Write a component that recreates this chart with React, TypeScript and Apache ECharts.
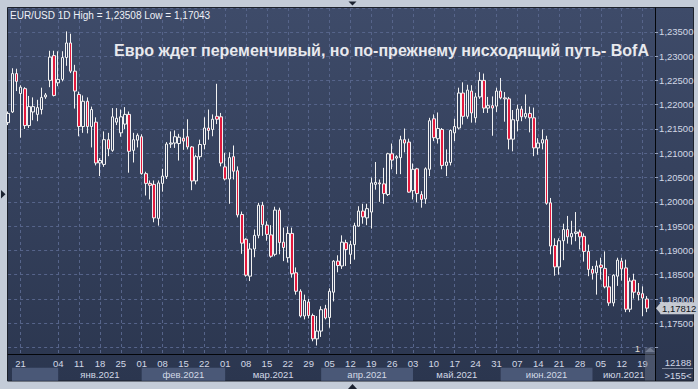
import React, { useEffect, useRef } from 'react';
import * as echarts from 'echarts';

// ---- DATA ----
const dates: string[] = [
  '2020-12-16','2020-12-17','2020-12-18','2020-12-21','2020-12-22','2020-12-23','2020-12-24','2020-12-25','2020-12-28','2020-12-29','2020-12-30','2020-12-31',
  '2021-01-04','2021-01-05','2021-01-06','2021-01-07','2021-01-08','2021-01-11','2021-01-12','2021-01-13','2021-01-14','2021-01-15',
  '2021-01-18','2021-01-19','2021-01-20','2021-01-21','2021-01-22','2021-01-25','2021-01-26','2021-01-27','2021-01-28','2021-01-29',
  '2021-02-01','2021-02-02','2021-02-03','2021-02-04','2021-02-05','2021-02-08','2021-02-09','2021-02-10','2021-02-11','2021-02-12',
  '2021-02-15','2021-02-16','2021-02-17','2021-02-18','2021-02-19','2021-02-22','2021-02-23','2021-02-24','2021-02-25','2021-02-26',
  '2021-03-01','2021-03-02','2021-03-03','2021-03-04','2021-03-05','2021-03-08','2021-03-09','2021-03-10','2021-03-11','2021-03-12',
  '2021-03-15','2021-03-16','2021-03-17','2021-03-18','2021-03-19','2021-03-22','2021-03-23','2021-03-24','2021-03-25','2021-03-26',
  '2021-03-29','2021-03-30','2021-03-31',
  '2021-04-01','2021-04-02','2021-04-05','2021-04-06','2021-04-07','2021-04-08','2021-04-09','2021-04-12','2021-04-13','2021-04-14',
  '2021-04-15','2021-04-16','2021-04-19','2021-04-20','2021-04-21','2021-04-22','2021-04-23','2021-04-26','2021-04-27','2021-04-28',
  '2021-04-29','2021-04-30',
  '2021-05-03','2021-05-04','2021-05-05','2021-05-06','2021-05-07','2021-05-10','2021-05-11','2021-05-12','2021-05-13','2021-05-14',
  '2021-05-17','2021-05-18','2021-05-19','2021-05-20','2021-05-21','2021-05-24','2021-05-25','2021-05-26','2021-05-27','2021-05-28',
  '2021-05-31',
  '2021-06-01','2021-06-02','2021-06-03','2021-06-04','2021-06-07','2021-06-08','2021-06-09','2021-06-10','2021-06-11','2021-06-14',
  '2021-06-15','2021-06-16','2021-06-17','2021-06-18','2021-06-21','2021-06-22','2021-06-23','2021-06-24','2021-06-25','2021-06-28',
  '2021-06-29','2021-06-30',
  '2021-07-01','2021-07-02','2021-07-05','2021-07-06','2021-07-07','2021-07-08','2021-07-09','2021-07-12','2021-07-13','2021-07-14',
  '2021-07-15','2021-07-16','2021-07-19','2021-07-20',
  '2021-07-21','2021-07-22'
];

const opens = [
  1.2163,1.2185,1.2264,1.2223,1.2233,1.2157,1.2185,1.2180,1.2190,1.2216,1.2250,1.2301,
  1.2245,1.2252,1.2297,1.2327,1.2269,1.2221,1.2155,1.2207,1.2155,1.2164,1.2080,1.2077,1.2128,1.2106,1.2164,1.2142,1.2160,1.2180,1.2106,1.2127,
  1.2134,1.2058,1.2038,1.2036,1.1966,1.2038,1.2052,1.2119,1.2121,1.2120,1.2131,1.2134,1.2113,1.2043,1.2093,1.2118,1.2152,1.2149,1.2176,1.2175,
  1.2072,1.2047,1.2093,1.2064,1.1974,1.1923,1.1847,1.1903,1.1931,1.1993,1.1952,1.1932,1.1892,1.1983,1.1917,1.1885,1.1935,1.1854,1.1816,1.1765,1.1794,1.1766,1.1718,
  1.1734,1.1780,1.1762,1.1814,1.1878,1.1868,1.1916,1.1892,1.1912,1.1950,1.1981,1.1967,1.1979,1.2036,1.2039,1.2037,1.2015,1.2099,1.2090,1.2091,1.2128,1.2123,
  1.2023,1.2068,1.2015,1.2006,1.2067,1.2171,1.2130,1.2149,1.2075,1.2081,1.2142,1.2152,1.2224,1.2176,1.2228,1.2173,1.2216,1.2250,1.2193,1.2198,1.2197,
  1.2228,1.2214,1.2212,1.2129,1.2167,1.2191,1.2175,1.2182,1.2173,1.2111,1.2121,1.2128,1.1998,1.1910,1.1866,1.1920,1.1943,1.1928,1.1935,1.1938,1.1929,1.1898,
  1.1861,1.1854,1.1870,1.1863,1.1825,1.1792,1.1847,1.1878,1.1864,1.1779,1.1839,1.1814,1.1811,1.1800
];
const highs = [
  1.2186,1.2275,1.2274,1.2240,1.2236,1.2218,1.2215,1.2210,1.2235,1.2224,1.2311,1.2311,
  1.2310,1.2310,1.23508,1.2346,1.2282,1.2227,1.2219,1.2215,1.2196,1.2174,1.2090,1.2145,1.2142,1.2193,1.2193,1.2190,1.2195,1.2186,1.2142,1.2141,
  1.2139,1.2062,1.2044,1.2044,1.2044,1.2068,1.2123,1.2145,1.2147,1.2140,1.2150,1.2170,1.2115,1.2097,1.2128,1.2174,1.2190,1.2180,1.2243,1.2183,
  1.2101,1.2102,1.2116,1.2073,1.1980,1.1925,1.1915,1.1943,1.1998,1.2000,1.1960,1.1952,1.1990,1.1988,1.1947,1.1949,1.1947,1.1865,1.1820,1.1809,1.1800,1.1770,1.1765,
  1.1785,1.1788,1.1822,1.1880,1.1890,1.1931,1.1922,1.1920,1.1957,1.1991,1.1996,1.1996,1.2050,1.2082,1.2046,1.2070,1.2101,1.2120,1.2096,1.2136,1.2151,1.2130,
  1.2079,1.2070,1.2022,1.2071,1.2173,1.2180,1.2184,1.2152,1.2108,1.2149,1.2171,1.2235,1.2246,1.2241,1.2240,1.2224,1.2267,1.2264,1.2216,1.2217,1.2235,
  1.2255,1.2226,1.2216,1.2189,1.2200,1.2197,1.2221,1.2196,1.2194,1.2131,1.2149,1.2136,1.2008,1.1925,1.1925,1.1955,1.1971,1.1961,1.1979,1.1943,1.1935,1.1912,
  1.1868,1.1879,1.1885,1.1898,1.1847,1.1851,1.1885,1.1885,1.1881,1.1844,1.1852,1.1833,1.1826,1.1806
];
const lows = [
  1.2158,1.2183,1.2228,1.2132,1.2150,1.2152,1.2168,1.2166,1.2180,1.2212,1.2236,1.2217,
  1.2238,1.2248,1.2280,1.2265,1.2192,1.2135,1.2142,1.2141,1.2112,1.2075,1.2053,1.2072,1.2094,1.2103,1.2158,1.2134,1.2150,1.2060,1.2081,1.2112,
  1.2056,1.2013,1.2005,1.1958,1.1951,1.2021,1.2047,1.2111,1.2111,1.2085,1.2107,1.2108,1.2024,1.2036,1.2087,1.2108,1.2128,1.2135,1.2160,1.2073,
  1.2044,1.1996,1.2046,1.1968,1.1893,1.1846,1.1837,1.1886,1.1925,1.1930,1.1920,1.1885,1.1888,1.1892,1.1878,1.1875,1.1844,1.1809,1.1762,1.1758,1.1760,1.1713,1.17043,
  1.1722,1.1758,1.1741,1.1795,1.1855,1.1862,1.1868,1.1872,1.1881,1.1949,1.1955,1.1952,1.1945,1.2025,1.2000,1.1996,1.2012,1.2067,1.2057,1.2057,1.2102,1.2019,
  1.2005,1.1999,1.1988,1.1996,1.2053,1.2125,1.2120,1.2067,1.2053,1.2075,1.2125,1.2149,1.2159,1.2171,1.2163,1.2163,1.2212,1.2183,1.2183,1.2136,1.2185,
  1.2211,1.2165,1.2108,1.2104,1.2145,1.2166,1.2171,1.2143,1.2094,1.2097,1.2108,1.1994,1.1892,1.1848,1.1850,1.1880,1.1914,1.1912,1.1919,1.1902,1.1877,1.1847,
  1.1840,1.1809,1.1840,1.1822,1.1786,1.1785,1.1827,1.1838,1.1773,1.1773,1.1801,1.1797,1.1765,1.1773
];
const closes = [
  1.2182,1.2264,1.2248,1.2236,1.2157,1.2196,1.2196,1.2194,1.2215,1.2220,1.2298,1.2219,
  1.2252,1.2297,1.2327,1.2269,1.2228,1.2155,1.2207,1.2155,1.2190,1.2080,1.2085,1.2128,1.2109,1.2175,1.2172,1.2175,1.2180,1.2104,1.2128,1.2137,
  1.2058,1.2038,1.2034,1.1967,1.2039,1.2053,1.2119,1.2121,1.2134,1.2133,1.2125,1.2113,1.2043,1.2093,1.2118,1.2152,1.2147,1.2170,1.2170,1.2080,
  1.2047,1.2091,1.2063,1.1973,1.1915,1.1849,1.1903,1.1931,1.1993,1.1953,1.1933,1.1888,1.1983,1.1916,1.1906,1.1935,1.1852,1.1816,1.1765,1.1797,1.1766,1.1718,1.1734,
  1.1778,1.1761,1.1816,1.1878,1.1869,1.1917,1.1902,1.1912,1.1951,1.1981,1.1969,1.1986,1.2039,1.2040,1.2037,1.2017,1.2099,1.2086,1.2093,1.2128,1.2121,1.2020,
  1.2067,1.2017,1.2005,1.2068,1.2167,1.2132,1.2151,1.2075,1.2082,1.2147,1.2155,1.2224,1.2176,1.2230,1.2183,1.2216,1.2250,1.2193,1.2198,1.2193,1.2228,
  1.2214,1.2212,1.2129,1.2169,1.2191,1.2175,1.2182,1.2173,1.2111,1.2121,1.2128,1.1997,1.1909,1.1866,1.1920,1.1943,1.1928,1.1935,1.1938,1.1928,1.1898,1.1861,
  1.1853,1.1868,1.1865,1.1825,1.1792,1.1849,1.1880,1.1862,1.1779,1.1837,1.1814,1.1809,1.1802,1.17812
];

const tickDates = [
  '2020-12-21','2021-01-04','2021-01-11','2021-01-18','2021-01-25','2021-02-01','2021-02-08','2021-02-15','2021-02-22',
  '2021-03-01','2021-03-08','2021-03-15','2021-03-22','2021-03-29','2021-04-05','2021-04-12','2021-04-19','2021-04-26',
  '2021-05-03','2021-05-10','2021-05-17','2021-05-24','2021-05-31','2021-06-07','2021-06-14','2021-06-21','2021-06-28',
  '2021-07-05','2021-07-12','2021-07-19'
];
const monthKeys = ['2020-12','2021-01','2021-02','2021-03','2021-04','2021-05','2021-06','2021-07'];
const monthLabels = ['', 'янв.2021', 'фев.2021', 'мар.2021', 'апр.2021', 'май.2021', 'июн.2021', 'июл.2021'];

const TITLE = 'Евро ждет переменчивый, но по-прежнему нисходящий путь- BofA';
const INFO = 'EUR/USD 1D High = 1,23508 Low = 1,17043';
const LAST_PRICE = 1.17812;

const FONT = '"Liberation Sans", Arial, sans-serif';
const TXT = '#d2d8e6';

export default function App() {
  const ref = useRef<HTMLDivElement>(null);
  useEffect(() => {
    const el = ref.current!;
    const chart = echarts.init(el, null, { renderer: 'svg', width: 698, height: 389 });
    const labelSet = new Set(tickDates);
    const candles = opens.map((o, i) => [o, closes[i], lows[i], highs[i]]);
    const isTick = (_i: number, v: string) => labelSet.has(v);

    chart.setOption({
      animation: false,
      backgroundColor: 'transparent',
      grid: { left: 8.1, top: 8, width: 647, height: 346.3, show: false },
      xAxis: {
        type: 'category',
        data: dates,
        boundaryGap: false,
        axisLine: { show: true, lineStyle: { color: '#04060a', width: 1 } },
        axisTick: { show: false },
        axisLabel: {
          interval: isTick,
          formatter: (v: string) => v.slice(8),
          color: TXT, fontSize: 9.5, fontFamily: FONT, margin: 4,
        },
        splitLine: { show: true, interval: isTick, lineStyle: { color: '#56648a', type: [3, 3], width: 1 } },
      },
      yAxis: {
        type: 'value',
        position: 'right',
        min: 1.16862,
        max: 1.2399,
        splitNumber: 14,
        minInterval: 0.005,
        maxInterval: 0.005,
        axisLine: { show: true, lineStyle: { color: '#04060a', width: 1 } },
        axisTick: { show: true, length: 3, lineStyle: { color: '#9aa6c0' } },
        axisLabel: {
          showMinLabel: false, showMaxLabel: false,
          margin: 4, color: TXT, fontSize: 9.5, fontFamily: FONT,
          formatter: (v: number) => {
            const k = v / 0.005;
            if (Math.abs(k - Math.round(k)) > 1e-6 || v < 1.1725 || v > 1.2375) return '';
            return v.toFixed(5).replace('.', ',');
          },
        },
        splitLine: { show: true, lineStyle: { color: '#56648a', type: [3, 3], width: 1 } },
      },
      series: [{
        type: 'candlestick',
        data: candles,
        barWidth: 3,
        clip: true,
        itemStyle: {
          color: '#36425f', color0: '#e3193d',
          borderColor: '#f2f2f2', borderColor0: '#f2f2f2', borderWidth: 1,
        },
      }],
    });

    // decorations positioned through the chart's own scales
    const xOf = (d: string) => chart.convertToPixel({ xAxisIndex: 0 }, d) as number;
    const yOf = (v: number) => chart.convertToPixel({ yAxisIndex: 0 }, v) as number;
    const rightX = xOf(dates[dates.length - 1]);
    const bands: any[] = [];
    monthKeys.forEach((mk, mi) => {
      const first = dates.findIndex((d) => d.startsWith(mk));
      const nextKey = monthKeys[mi + 1];
      const nextIdx = nextKey ? dates.findIndex((d) => d.startsWith(nextKey)) : -1;
      const x0 = Math.max(xOf(dates[first]), 12);
      const x1 = nextIdx >= 0 ? xOf(dates[nextIdx]) : rightX;
      if (mi % 2 === 0) {
        bands.push({ type: 'rect', z: -5, silent: true, shape: { x: x0, y: 367.7, width: x1 - x0, height: 13 }, style: { fill: '#4a5877' } });
      }
      if (monthLabels[mi]) {
        bands.push({ type: 'text', z: 5, silent: true, x: (x0 + x1) / 2, y: 374.4,
          style: { text: monthLabels[mi], fill: TXT, font: `9.5px ${FONT}`, align: 'center', verticalAlign: 'middle', textAlign: 'center', textVerticalAlign: 'middle' } });
      }
    });
    const py = yOf(LAST_PRICE);
    const tx = (x: number, y: number, text: string, font: string, fill: string, align = 'left') => ({
      type: 'text', z: 20, silent: true, x, y,
      style: { text, fill, font, align, verticalAlign: 'middle', textAlign: align, textVerticalAlign: 'middle' },
    });

    chart.setOption({
      graphic: [
        { type: 'rect', z: -10, silent: true, shape: { x: 7.5, y: 7.5, width: 686, height: 373.5 },
          style: { fill: new echarts.graphic.LinearGradient(0, 0, 0, 1, [
            { offset: 0, color: '#3e4b69' }, { offset: 1, color: '#2b364f' }]), stroke: '#1c212b', lineWidth: 1 } },
        ...bands,
        { type: 'line', z: 5, silent: true, shape: { x1: 655.5, y1: 354, x2: 655.5, y2: 381 }, style: { stroke: '#04060a', lineWidth: 1 } },
        tx(649, 50, TITLE, `bold 16px ${FONT}`, '#e8e9ee', 'right'),
        tx(10, 15, INFO, `10px ${FONT}`, '#eef1f7'),
        // last price tag
        { type: 'polygon', z: 20, silent: true, shape: { points: [[656, py], [661, py - 6], [661, py + 6]] }, style: { fill: '#c6cad2' } },
        { type: 'rect', z: 20, silent: true, shape: { x: 660.5, y: py - 6, width: 34, height: 12 }, style: { fill: '#c6cad2' } },
        tx(662, py + 0.5, LAST_PRICE.toFixed(5).replace('.', ','), `9.5px ${FONT}`, '#10131a'),
        // right-bottom info
        tx(678, 362, '12188', `9.5px ${FONT}`, TXT, 'center'),
        { type: 'line', z: 20, silent: true, shape: { x1: 662, y1: 368.5, x2: 693, y2: 368.5 }, style: { stroke: '#7d879c', lineWidth: 1 } },
        tx(678, 375, '>155<', `9.5px ${FONT}`, TXT, 'center'),
        // scroll shift marker
        tx(637.5, 348.5, '1', `9.5px ${FONT}`, '#e2dccd', 'center'),
        { type: 'rect', z: 25, silent: true, shape: { x: 645, y: 347.5, width: 10, height: 33 }, style: { fill: 'rgba(110,120,140,0.45)' } },
        { type: 'polygon', z: 25, silent: true, shape: { points: [[645, 352], [650, 347.5], [655, 352]] }, style: { fill: 'rgba(140,150,170,0.6)' } },
        // window arrows
        { type: 'polygon', z: 30, silent: true, shape: { points: [[348.5, 1.5], [356.5, 1.5], [352.5, 5.5]] }, style: { fill: '#1b2230' } },
        { type: 'polygon', z: 30, silent: true, shape: { points: [[348, 389], [357, 389], [352.5, 384]] }, style: { fill: '#1b2230' } },
        { type: 'polygon', z: 30, silent: true, shape: { points: [[1, 190], [1, 198.5], [5.5, 194.2]] }, style: { fill: '#1b2230' } },
      ],
    });

    return () => chart.dispose();
  }, []);

  return (
    <div
      ref={ref}
      style={{ position: 'fixed', left: 0, top: 0, width: 698, height: 389, background: '#c4ccd8' }}
    />
  );
}
